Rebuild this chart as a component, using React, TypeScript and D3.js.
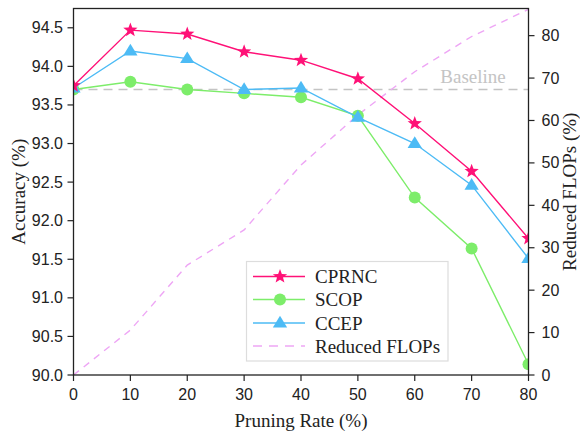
import React from "react";
import * as d3 from "d3";

const pruningRates = [0, 10, 20, 30, 40, 50, 60, 70, 80];
const cprnc = [93.75, 94.47, 94.42, 94.19, 94.08, 93.84, 93.26, 92.64, 91.77];
const scop = [93.7, 93.8, 93.7, 93.65, 93.6, 93.36, 92.3, 91.64, 90.14];
const ccep = [93.72, 94.2, 94.1, 93.7, 93.72, 93.34, 93.0, 92.46, 91.51];
const reducedFlops = [0, 10.6, 25.9, 34.2, 49.5, 61.3, 71.5, 79.8, 86.2];
const baseline = 93.7;
const leftTicks = [90.0, 90.5, 91.0, 91.5, 92.0, 92.5, 93.0, 93.5, 94.0, 94.5];
const rightTicks = [0, 10, 20, 30, 40, 50, 60, 70, 80];
const xTicks = [0, 10, 20, 30, 40, 50, 60, 70, 80];

const W = 580, H = 433;
const L = 73.5, R = 528.5, T = 8.5, B = 375;

const C_CPRNC = "#ff1177";
const C_SCOP = "#7ded6a";
const C_CCEP = "#4dbbf5";
const C_FLOPS = "#eea6f5";
const SANS = "Liberation Sans, Arial, sans-serif";
const SERIF = "Liberation Serif, Times New Roman, serif";

function star(cx: number, cy: number, r: number) {
  const pts: string[] = [];
  for (let i = 0; i < 10; i++) {
    const rr = i % 2 === 0 ? r : r * 0.42;
    const a = -Math.PI / 2 + (i * Math.PI) / 5;
    pts.push(`${cx + rr * Math.cos(a)},${cy + rr * Math.sin(a)}`);
  }
  return pts.join(" ");
}
function tri(cx: number, cy: number, s: number) {
  const h = s * 0.9;
  return `${cx},${cy - h * 0.62} ${cx - s / 2 * 1.1},${cy + h * 0.38} ${cx + s / 2 * 1.1},${cy + h * 0.38}`;
}

export default function App() {
  const x = d3.scaleLinear().domain([0, 80]).range([L, R]);
  const y = d3.scaleLinear().domain([90, 94.75]).range([B, T]);
  const y2 = d3.scaleLinear().domain([0, 86.4]).range([B, T]);
  const line = (vals: number[], sc: d3.ScaleLinear<number, number>) =>
    d3.line<number>().x((_, i) => x(pruningRates[i])).y((v) => sc(v))(vals) || "";

  const legX = 246.5, legY = 261.5, legW = 201.5, legH = 99.5;
  const rows = [276.5, 299.5, 323, 346];

  return (
    <svg width={W} height={H} style={{ position: "absolute", left: 0, top: 0, background: "#fff" }}>
      <defs>
        <clipPath id="plot">
          <rect x={L} y={T} width={R - L} height={B - T} />
        </clipPath>
      </defs>
      <g clipPath="url(#plot)">
        <line x1={L} x2={R} y1={y(baseline)} y2={y(baseline)} stroke="#c4c4c4" strokeWidth={1.6} strokeDasharray="9,6" />
        <path d={line(reducedFlops, y2)} fill="none" stroke={C_FLOPS} strokeWidth={1.4} strokeDasharray="7,6" />
        <path d={line(scop, y)} fill="none" stroke={C_SCOP} strokeWidth={1.4} />
        {scop.map((v, i) => (
          <circle key={"s" + i} cx={x(pruningRates[i])} cy={y(v)} r={6} fill={C_SCOP} />
        ))}
        <path d={line(ccep, y)} fill="none" stroke={C_CCEP} strokeWidth={1.4} />
        {ccep.map((v, i) => (
          <polygon key={"c" + i} points={tri(x(pruningRates[i]), y(v), 13)} fill={C_CCEP} />
        ))}
        <path d={line(cprnc, y)} fill="none" stroke={C_CPRNC} strokeWidth={1.4} />
        {cprnc.map((v, i) => (
          <polygon key={"p" + i} points={star(x(pruningRates[i]), y(v), 7.5)} fill={C_CPRNC} />
        ))}
      </g>
      <text x={473} y={83} textAnchor="middle" fontFamily={SERIF} fontSize={19} fill="#c4c4c4">Baseline</text>
      <rect x={L} y={T} width={R - L} height={B - T} fill="none" stroke="#222" strokeWidth={1.3} />
      {leftTicks.map((t) => (
        <g key={"l" + t}>
          <line x1={L - 6} x2={L} y1={y(t)} y2={y(t)} stroke="#222" strokeWidth={1.2} />
          <text x={L - 10.5} y={y(t) + 5.5} textAnchor="end" fontFamily={SANS} fontSize={16} fill="#222">{t.toFixed(1)}</text>
        </g>
      ))}
      {rightTicks.map((t) => (
        <g key={"r" + t}>
          <line x1={R} x2={R + 6} y1={y2(t)} y2={y2(t)} stroke="#222" strokeWidth={1.2} />
          <text x={R + 13} y={y2(t) + 5.5} textAnchor="start" fontFamily={SANS} fontSize={16} fill="#222">{t}</text>
        </g>
      ))}
      {xTicks.map((t) => (
        <g key={"x" + t}>
          <line x1={x(t)} x2={x(t)} y1={B} y2={B + 6} stroke="#222" strokeWidth={1.2} />
          <text x={x(t)} y={B + 25} textAnchor="middle" fontFamily={SANS} fontSize={16} fill="#222">{t}</text>
        </g>
      ))}
      <text x={(L + R) / 2} y={427} textAnchor="middle" fontFamily={SERIF} fontSize={19} fill="#222">Pruning Rate (%)</text>
      <text transform={`translate(25,${(T + B) / 2}) rotate(-90)`} textAnchor="middle" fontFamily={SERIF} fontSize={19} fill="#222">Accuracy (%)</text>
      <text transform={`translate(575.5,${(T + B) / 2}) rotate(-90)`} textAnchor="middle" fontFamily={SERIF} fontSize={19} fill="#222">Reduced FLOPs (%)</text>

      <rect x={legX} y={legY} width={legW} height={legH} fill="#fff" stroke="#ddd" strokeWidth={1.2} />
      <line x1={253} x2={305} y1={rows[0]} y2={rows[0]} stroke={C_CPRNC} strokeWidth={1.5} />
      <polygon points={star(280, rows[0], 7.5)} fill={C_CPRNC} />
      <line x1={253} x2={305} y1={rows[1]} y2={rows[1]} stroke={C_SCOP} strokeWidth={1.5} />
      <circle cx={280} cy={rows[1]} r={6} fill={C_SCOP} />
      <line x1={253} x2={305} y1={rows[2]} y2={rows[2]} stroke={C_CCEP} strokeWidth={1.5} />
      <polygon points={tri(280, rows[2], 13)} fill={C_CCEP} />
      <line x1={253} x2={305} y1={rows[3]} y2={rows[3]} stroke={C_FLOPS} strokeWidth={1.5} strokeDasharray="9,7" />
      {["CPRNC", "SCOP", "CCEP", "Reduced FLOPs"].map((s, i) => (
        <text key={s} x={315} y={rows[i] + 6.5} fontFamily={SERIF} fontSize={19} fill="#222">{s}</text>
      ))}
    </svg>
  );
}
